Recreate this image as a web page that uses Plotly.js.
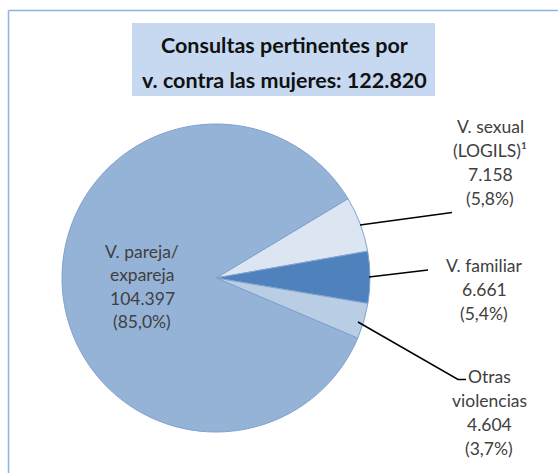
<!DOCTYPE html>
<html>
<head>
<meta charset="utf-8">
<script src="https://cdn.plot.ly/plotly-3.0.1.min.js"></script>
<style>html,body{margin:0;padding:0;background:#fff;}#chart{width:558px;height:473px;}</style>
</head>
<body>
<div id="chart"></div>
<script>
// ---- data ----
var categories = ["V. sexual (LOGILS)¹", "V. familiar", "Otras violencias", "V. pareja/ expareja"];
var labelLines = [["V. sexual", "(LOGILS)¹"], ["V. familiar"], ["Otras", "violencias"], ["V. pareja/", "expareja"]];
var values = [7158, 6661, 4604, 104397];
var colors = ["#DCE6F2", "#4F81BD", "#B9CDE5", "#95B3D7"];
var titleLines = ["Consultas pertinentes por", "v. contra las mujeres: 122.820"];

// ---- helpers ----
function fmtInt(n) { return String(n).replace(/\B(?=(\d{3})+(?!\d))/g, "."); }
function fmtPct(p) { return "(" + p.toFixed(1).replace(".", ",") + "%)"; }
var total = values.reduce(function (a, b) { return a + b; }, 0);

var W = 558, H = 473;
var cx = 216, cy = 278, R = 154;

var pie = {
  type: "pie",
  labels: categories,
  values: values,
  sort: false,
  direction: "clockwise",
  rotation: 59,
  marker: { colors: colors, line: { color: "#7FA2CF", width: 1 } },
  textinfo: "none",
  hoverinfo: "none",
  showlegend: false,
  domain: { x: [(cx - R) / W, (cx + R) / W], y: [1 - (cy + R) / H, 1 - (cy - R) / H] }
};

// first-line center and line spacing (pixel space) per category
var labelPos = [[490, 126, 24.3], [484, 265, 24.3], [489, 376, 24.3], [142, 251, 23.5]];
var annotations = [];
var fontBase = { family: "Lato, 'Open Sans', sans-serif", size: 17.5, color: "#404040" };
for (var i = 0; i < values.length; i++) {
  var lines = labelLines[i].concat([fmtInt(values[i]), fmtPct(values[i] / total * 100)]);
  for (var j = 0; j < lines.length; j++) {
    annotations.push({
      xref: "x", yref: "y", x: labelPos[i][0], y: labelPos[i][1] + j * labelPos[i][2],
      text: lines[j], showarrow: false, align: "center",
      xanchor: "center", yanchor: "middle", font: fontBase
    });
  }
}
for (var k = 0; k < titleLines.length; k++) {
  annotations.push({
    xref: "x", yref: "y", x: 284, y: 45 + k * 35,
    text: "<b>" + titleLines[k] + "</b>", showarrow: false, align: "center",
    xanchor: "center", yanchor: "middle",
    font: { family: "Lato, 'Open Sans', sans-serif", size: 21.5, color: "#111111" }
  });
}

var shapes = [
  // frame (partially visible)
  { type: "line", xref: "x", yref: "y", x0: 8.5, y0: 10.5, x1: 8.5, y1: 480, line: { color: "#8DB3E2", width: 1.5 } },
  { type: "line", xref: "x", yref: "y", x0: 8.5, y0: 10.5, x1: 570, y1: 10.5, line: { color: "#8DB3E2", width: 1.5 } },
  // title box
  { type: "rect", xref: "x", yref: "y", x0: 132, y0: 23, x1: 435, y1: 96, fillcolor: "#C6D9F1", line: { width: 0 }, layer: "below" },
  // leader lines
  { type: "path", xref: "x", yref: "y", path: "M 360 225 L 452 212.5", line: { color: "#000000", width: 1.5 } },
  { type: "path", xref: "x", yref: "y", path: "M 369 277 L 428 270", line: { color: "#000000", width: 1.5 } },
  { type: "path", xref: "x", yref: "y", path: "M 358 322 L 458 379.5 L 466 379.5", line: { color: "#000000", width: 1.5 } }
];

var layout = {
  width: W, height: H,
  margin: { l: 0, r: 0, t: 0, b: 0 },
  paper_bgcolor: "#ffffff", plot_bgcolor: "rgba(0,0,0,0)",
  xaxis: { range: [0, W], visible: false, fixedrange: true },
  yaxis: { range: [H, 0], visible: false, fixedrange: true },
  annotations: annotations,
  shapes: shapes,
  showlegend: false
};

Plotly.newPlot("chart", [pie], layout, { displayModeBar: false, staticPlot: true });
</script>
</body>
</html>
